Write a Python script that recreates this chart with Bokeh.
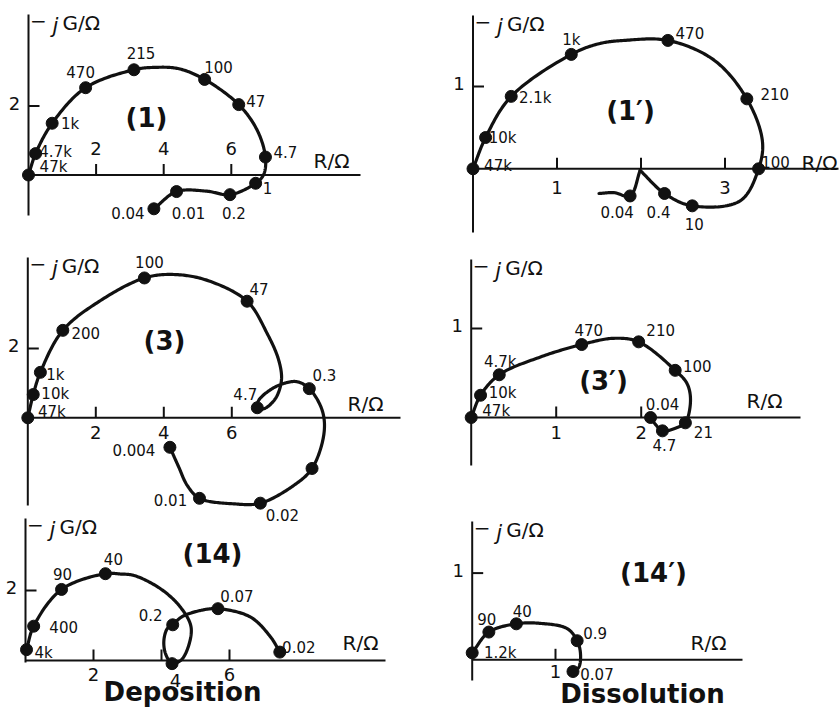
import numpy as np
from bokeh.plotting import figure
from bokeh.models import Range1d
from bokeh.embed import file_html
from bokeh.resources import INLINE
from bokeh.core.properties import value

W, H = 839, 711
FONT = "DejaVu Sans"

# ---------------------------------------------------------------------------
# Impedance loci: R / ohm (real part) and -jG / ohm (imaginary part),
# each marked point labelled with its frequency in Hz.
# ---------------------------------------------------------------------------

# (1) deposition
p1_freq = ["47k", "4.7k", "1k", "470", "215", "100", "47", "4.7", "1", "0.2", "0.01", "0.04"]
p1_r = [0.0, 0.21, 0.70, 1.69, 3.12, 5.21, 6.22, 7.01, 6.72, 5.96, 4.38, 3.71]
p1_g = [0.0, 0.62, 1.50, 2.53, 3.05, 2.77, 2.04, 0.52, -0.24, -0.57, -0.48, -0.98]
p1_path_r = [[0.0, 0.21, 0.70, 1.69, 3.12, 3.75, 4.45, 5.21, 6.22, 6.77, 7.01, 6.96, 6.72, 5.96, 5.28, 4.38, 3.71]]
p1_path_g = [[0.0, 0.62, 1.50, 2.53, 3.05, 3.12, 3.08, 2.77, 2.04, 1.29, 0.52, 0.02, -0.24, -0.57, -0.47, -0.48, -0.98]]

# (1') dissolution
p1d_freq = ["47k", "10k", "2.1k", "1k", "470", "210", "100", "10", "0.4", "0.04"]
p1d_r = [0.0, 0.15, 0.455, 1.17, 2.32, 3.26, 3.40, 2.61, 2.28, 1.87]
p1d_g = [0.0, 0.38, 0.88, 1.39, 1.56, 0.85, 0.0, -0.45, -0.30, -0.33]
p1d_path_r = [[0.0, 0.15, 0.455, 1.17, 1.50, 1.80, 2.32, 2.87, 3.26, 3.445, 3.40, 3.18, 2.61, 2.28, 1.99],
              [1.99, 1.87, 1.68, 1.50]]
p1d_path_g = [[0.0, 0.38, 0.88, 1.39, 1.52, 1.56, 1.56, 1.32, 0.85, 0.34, 0.0, -0.39, -0.45, -0.30, -0.02],
              [-0.02, -0.33, -0.29, -0.30]]

# (3) deposition
p3_freq = ["47k", "10k", "1k", "200", "100", "47", "4.7", "0.3", "", "0.02", "0.01", "0.004"]
p3_r = [0.0, 0.16, 0.37, 1.03, 3.43, 6.45, 6.75, 8.28, 8.36, 6.84, 5.05, 4.18]
p3_g = [0.0, 0.67, 1.31, 2.52, 4.03, 3.36, 0.29, 0.84, -1.46, -2.46, -2.32, -0.85]
p3_path_r = [[0.0, 0.16, 0.37, 1.03, 2.14, 3.43, 4.29, 5.28, 6.45, 7.04, 7.38, 7.46, 7.28, 6.94, 6.75,
              6.79, 7.14, 7.53, 7.92, 8.28, 8.66, 8.71, 8.36, 7.82, 6.84, 6.06, 5.05, 4.69, 4.44, 4.18]]
p3_path_g = [[0.0, 0.67, 1.31, 2.52, 3.38, 4.03, 4.13, 3.96, 3.36, 2.43, 1.66, 1.08, 0.55, 0.26, 0.29,
              0.50, 0.81, 0.99, 1.04, 0.84, 0.21, -0.46, -1.46, -1.95, -2.46, -2.48, -2.32, -1.95, -1.42, -0.85]]

# (3') dissolution
p3d_freq = ["47k", "10k", "4.7k", "470", "210", "100", "21", "4.7", "0.04"]
p3d_r = [0.0, 0.11, 0.33, 1.30, 1.97, 2.40, 2.52, 2.25, 2.11]
p3d_g = [0.0, 0.25, 0.48, 0.82, 0.85, 0.53, -0.06, -0.15, 0.0]
p3d_path_r = [[0.0, 0.11, 0.33, 0.815, 1.30, 1.68, 1.97, 2.40, 2.54, 2.58, 2.52, 2.43, 2.25, 2.17, 2.11]]
p3d_path_g = [[0.0, 0.25, 0.48, 0.68, 0.82, 0.89, 0.85, 0.53, 0.38, 0.19, -0.06, -0.11, -0.15, -0.08, 0.0]]

# (14) deposition
p14_freq = ["4k", "400", "90", "40", "0.2", "", "0.07", "0.02"]
p14_r = [0.03, 0.24, 1.06, 2.35, 4.33, 4.31, 5.66, 7.48]
p14_g = [0.31, 0.98, 2.03, 2.48, 1.02, -0.09, 1.48, 0.24]
p14_path_r = [[0.03, 0.24, 1.06, 2.35, 2.80, 3.19, 3.97, 4.56, 4.87, 4.75, 4.56, 4.31, 4.12, 4.07, 4.17,
               4.33, 4.60, 5.15, 5.66, 6.62, 7.21, 7.48]]
p14_path_g = [[0.31, 0.98, 2.03, 2.48, 2.47, 2.43, 2.05, 1.52, 0.95, 0.29, 0.0, -0.09, 0.19, 0.57, 0.91,
               1.02, 1.25, 1.43, 1.48, 1.24, 0.67, 0.24]]

# (14') dissolution
p14d_freq = ["1.2k", "90", "40", "0.9", "0.07"]
p14d_r = [0.0, 0.20, 0.53, 1.26, 1.21]
p14d_g = [0.08, 0.32, 0.415, 0.22, -0.135]
p14d_path_r = [[0.0, 0.20, 0.53, 0.82, 1.14, 1.26, 1.30, 1.28, 1.21]]
p14d_path_g = [[0.08, 0.32, 0.415, 0.42, 0.36, 0.22, 0.07, -0.085, -0.135]]

# ---------------------------------------------------------------------------
# Panel placement on the page (pixels) and label nudges (pixels, +down)
# ---------------------------------------------------------------------------
panels = [
    dict(key="p1", freq=p1_freq, r=p1_r, g=p1_g, pr=p1_path_r, pg=p1_path_g,
         nudge=[(25, -8), (20, -2), (18, 1), (-5, -16), (7, -17), (14, -12), (17, -4), (20, -5),
                (12, 5), (4, 18), (12, 21), (-26, 4)],
         origin=(28, 174.5), scale=(33.8, 34.5), x_end=360, y_top=14, y_bot=215,
         xticks=[2, 4, 6], xlabels=["2", "4", "6"], xlab_dy=-27, xlab_shift=[(0, 0)] * 3,
         yticks=[2], ylabels=["2"],
         title="(1)", title_at=(146, 117), rlab_at=(331, 160)),
    dict(key="p1d", freq=p1d_freq, r=p1d_r, g=p1d_g, pr=p1d_path_r, pg=p1d_path_g,
         nudge=[(25, -3), (17, 0), (24, 2), (0, -14), (22, -7), (28, -5), (17, -7), (2, 18),
                (-6, 19), (-13, 16)],
         origin=(472.5, 168.3), scale=(84.0, 82.3), x_end=838, y_top=15, y_bot=232,
         xticks=[1, 2, 3], xlabels=["1", "", "3"], xlab_dy=19, xlab_shift=[(0, 0)] * 3,
         yticks=[1], ylabels=["1"],
         title="(1\u2032)", title_at=(630, 110), rlab_at=(819, 162)),
    dict(key="p3", freq=p3_freq, r=p3_r, g=p3_g, pr=p3_path_r, pg=p3_path_g,
         nudge=[(24, -6), (22, -1), (15, 3), (23, 3), (5, -16), (12, -12), (-12, -14), (15, -14),
                (0, 0), (22, 12), (-29, 2), (-36, 3)],
         origin=(27.3, 417.3), scale=(34.0, 34.7), x_end=400, y_top=257, y_bot=505,
         xticks=[2, 4, 6], xlabels=["2", "4", "6"], xlab_dy=15, xlab_shift=[(0, 0)] * 3,
         yticks=[2], ylabels=["2"],
         title="(3)", title_at=(164, 340), rlab_at=(365, 403)),
    dict(key="p3d", freq=p3d_freq, r=p3d_r, g=p3d_g, pr=p3d_path_r, pg=p3d_path_g,
         nudge=[(25, -7), (22, -2), (1, -13), (7, -15), (22, -12), (22, -4), (18, 9), (2, 14), (12, -14)],
         origin=(470.7, 417.0), scale=(85.0, 89.0), x_end=800, y_top=259, y_bot=465,
         xticks=[1, 2], xlabels=["1", "2"], xlab_dy=15, xlab_shift=[(0, 0)] * 2,
         yticks=[1], ylabels=["1"],
         title="(3\u2032)", title_at=(603, 380), rlab_at=(764, 400)),
    dict(key="p14", freq=p14_freq, r=p14_r, g=p14_g, pr=p14_path_r, pg=p14_path_g,
         nudge=[(17, 3), (30, 1), (1, -15), (8, -15), (-22, -10), (0, 0), (19, -13), (19, -5)],
         origin=(25.0, 660.0), scale=(34.0, 35.0), x_end=385, y_top=518, y_bot=662,
         xticks=[2, 4, 6], xlabels=["2", "4", "6"], xlab_dy=14, xlab_shift=[(0, 0), (14, 6), (0, 0)],
         yticks=[2], ylabels=["2"],
         title="(14)", title_at=(212, 553), rlab_at=(360, 642)),
    dict(key="p14d", freq=p14d_freq, r=p14d_r, g=p14d_g, pr=p14d_path_r, pg=p14d_path_g,
         nudge=[(28, 0), (-2, -13), (6, -13), (18, -8), (24, 2)],
         origin=(471.7, 659.3), scale=(83.3, 86.7), x_end=742, y_top=521, y_bot=680,
         xticks=[1], xlabels=["1"], xlab_dy=12, xlab_shift=[(0, 0)],
         yticks=[1], ylabels=["1"],
         title="(14\u2032)", title_at=(653, 572), rlab_at=(708, 642)),
]

captions = [("Deposition", (182, 691)), ("Dissolution", (642, 693))]


def catmull_rom(p0, p1, p2, p3, n):
    """Centripetal Catmull-Rom segment between p1 and p2."""
    def knot(t, a, b):
        return t + max(np.hypot(*(b - a)), 1e-6) ** 0.5
    t0 = 0.0
    t1 = knot(t0, p0, p1)
    t2 = knot(t1, p1, p2)
    t3 = knot(t2, p2, p3)
    t = np.linspace(t1, t2, n)[:, None]
    a1 = (t1 - t) / (t1 - t0) * p0 + (t - t0) / (t1 - t0) * p1
    a2 = (t2 - t) / (t2 - t1) * p1 + (t - t1) / (t2 - t1) * p2
    a3 = (t3 - t) / (t3 - t2) * p2 + (t - t2) / (t3 - t2) * p3
    b1 = (t2 - t) / (t2 - t0) * a1 + (t - t0) / (t2 - t0) * a2
    b2 = (t3 - t) / (t3 - t1) * a2 + (t - t1) / (t3 - t1) * a3
    return (t2 - t) / (t2 - t1) * b1 + (t - t1) / (t2 - t1) * b2


def smooth(xs, ys, sx, sy, n=24):
    pts = np.column_stack([np.asarray(xs, float) * sx, np.asarray(ys, float) * sy])
    if len(pts) < 3:
        return list(xs), list(ys)
    ext = np.vstack([2 * pts[0] - pts[1], pts, 2 * pts[-1] - pts[-2]])
    out = [pts[:1]]
    for i in range(1, len(ext) - 2):
        out.append(catmull_rom(ext[i - 1], ext[i], ext[i + 1], ext[i + 2], n)[1:])
    c = np.vstack(out)
    return c[:, 0] / sx, c[:, 1] / sy


p = figure(width=W, height=H, x_range=Range1d(0, W), y_range=Range1d(H, 0),
           toolbar_location=None, output_backend="svg", min_border=0,
           x_axis_type=None, y_axis_type=None,
           background_fill_color="white", border_fill_color="white")
p.outline_line_color = None

# one pair of data ranges per panel, mapped onto its spot of the page
xr, yr = {}, {}
for pan in panels:
    ox, oy = pan["origin"]
    sx, sy = pan["scale"]
    xr[pan["key"]] = Range1d(-ox / sx, (W - ox) / sx)
    yr[pan["key"]] = Range1d((oy - H) / sy, oy / sy)
p.extra_x_ranges = xr
p.extra_y_ranges = yr

INK = "#111111"
TICK = 11

for pan in panels:
    key = pan["key"]
    ox, oy = pan["origin"]
    sx, sy = pan["scale"]
    kw = dict(x_range_name=key, y_range_name=key)

    # axes crossing at the origin
    x_end = (pan["x_end"] - ox) / sx
    y_top = (oy - pan["y_top"]) / sy
    y_bot = (oy - pan["y_bot"]) / sy
    p.segment(x0=[0, 0], y0=[0, y_bot], x1=[x_end, 0], y1=[0, y_top],
              line_color=INK, line_width=2, **kw)

    xt = pan["xticks"]
    p.segment(x0=xt, y0=[0] * len(xt), x1=xt, y1=[TICK / sy] * len(xt),
              line_color=INK, line_width=2, **kw)
    yt = pan["yticks"]
    p.segment(x0=[0] * len(yt), y0=yt, x1=[TICK / sx] * len(yt), y1=yt,
              line_color=INK, line_width=2, **kw)

    tx = [v + dx / sx for v, (dx, dy) in zip(xt, pan["xlab_shift"])]
    ty = [-(pan["xlab_dy"] + dy) / sy for dx, dy in pan["xlab_shift"]]
    p.text(x=tx, y=ty, text=pan["xlabels"],
           text_font=value(FONT), text_font_size="18px", text_color=INK,
           text_align="center", text_baseline="middle", **kw)
    p.text(x=[-14 / sx] * len(yt), y=[v + 3 / sy for v in yt], text=pan["ylabels"],
           text_font=value(FONT), text_font_size="18px", text_color=INK,
           text_align="center", text_baseline="middle", **kw)

    # vertical axis title  -jG/Ω
    ax_x, ax_top = ox, pan["y_top"]
    p.text(x=[ax_x + 10], y=[ax_top + 6], text=["\u2212"],
           text_font=value(FONT), text_font_size="20px", text_color=INK,
           text_align="center", text_baseline="middle")
    p.text(x=[ax_x + 27], y=[ax_top + 11], text=["j"],
           text_font=value(FONT), text_font_style="italic", text_font_size="21px", text_color=INK,
           text_align="center", text_baseline="middle")
    p.text(x=[ax_x + 34], y=[ax_top + 8], text=["G/\u03a9"],
           text_font=value(FONT), text_font_size="20px", text_color=INK,
           text_align="left", text_baseline="middle")

    # horizontal axis title R/Ω
    p.text(x=[pan["rlab_at"][0]], y=[pan["rlab_at"][1]], text=["R/\u03a9"],
           text_font=value(FONT), text_font_size="20px", text_color=INK,
           text_align="center", text_baseline="middle")

    # panel number
    p.text(x=[pan["title_at"][0]], y=[pan["title_at"][1]], text=[pan["title"]],
           text_font=value(FONT), text_font_style="bold", text_font_size="26px", text_color=INK,
           text_align="center", text_baseline="middle")

    # locus strokes
    for xs, ys in zip(pan["pr"], pan["pg"]):
        cx, cy = smooth(xs, ys, sx, sy)
        p.line(x=list(cx), y=list(cy), line_color=INK, line_width=3.2,
               line_cap="round", line_join="round", **kw)

    # measured points and their frequencies
    p.scatter(x=pan["r"], y=pan["g"], size=12, fill_color=INK, line_color=INK, **kw)
    lx = [r + dx / sx for r, (dx, dy) in zip(pan["r"], pan["nudge"])]
    ly = [g - dy / sy for g, (dx, dy) in zip(pan["g"], pan["nudge"])]
    p.text(x=lx, y=ly, text=pan["freq"], text_font=value(FONT), text_font_size="15px",
           text_color=INK, text_align="center", text_baseline="middle", **kw)

for txt, (cx, cy) in captions:
    p.text(x=[cx], y=[cy], text=[txt], text_font=value(FONT), text_font_style="bold",
           text_font_size="26px", text_color=INK, text_align="center", text_baseline="middle")

open("out.html", "w").write(file_html(p, INLINE))
